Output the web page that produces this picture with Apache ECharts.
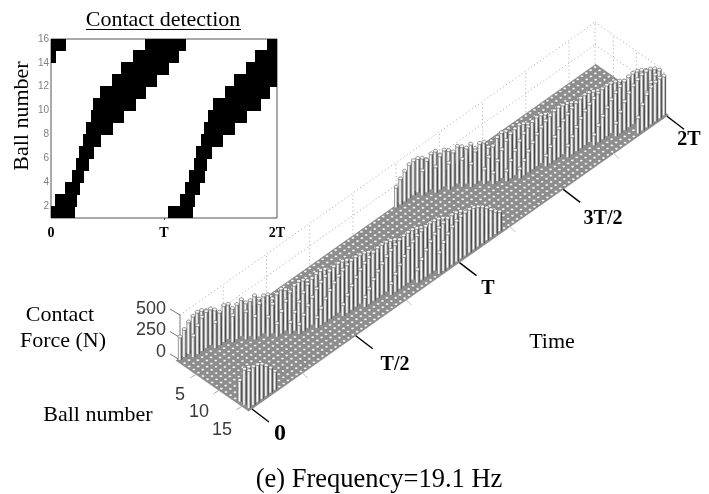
<!DOCTYPE html>
<html><head><meta charset="utf-8">
<style>html,body{margin:0;padding:0;background:#fff}#c{width:709px;height:494px}</style>
<script src="https://cdn.jsdelivr.net/npm/echarts@6/dist/echarts.min.js"></script>
</head><body><div id="c"></div>
<script>
// ---- data ----
const sampleCount = 96;
const ballCount = 16;
const forceTicks = [0, 250, 500];
const ballTicks = [5, 10, 15];
const insetBallTicks = [2, 4, 6, 8, 10, 12, 14, 16];
const insetTimeTicks = [0, 48, 96];
const insetTimeNames = ['0', 'T', '2T'];
const leaderTimes = [0, 24, 48, 72, 96];
const leaderNames = ['0', 'T/2', 'T', '3T/2', '2T'];

// first contact sample of each ball in each passage, and the force (N) from there on
const startFirst = [0, 2, 6, 9, 11, 12, 14, 15, 17, 18, 21, 26, 30, 35, 40, 44];
const forceFirst = [
  [260,310,360,390,400,385,350,300,230,140],
  [240,320,380,410,405,360,290,210,120],
  [290,370,410,390,310,180],
  [300,390,410,340,190],
  [310,400,420,350,200],
  [260,370,420,400,320,170],
  [220,330,410,430,390,300,160],
  [150,250,330,400,440,450,430,390,330,250,130],
  [130,210,290,360,420,450,470,470,450,410,360,300,220,120],
  [110,180,250,310,370,410,440,465,480,485,475,450,420,380,330,270,200,110],
  [120,190,260,320,370,410,445,470,485,490,480,465,440,405,365,310,250,180,100],
  [130,200,270,330,380,420,450,475,490,495,485,470,445,415,375,325,265,190,110],
  [110,170,240,300,350,395,430,460,480,490,495,490,470,445,410,370,320,260,190,110],
  [130,200,270,330,385,425,460,480,495,500,490,475,450,415,375,325,265,190,110],
  [150,230,300,360,410,445,470,485,490,480,460,430,395,350,290,220,130],
  [240,320,380,425,455,475,485,485,470,445,410,365,310,260,220]
];
const startSecond = [50, 55, 57, 59, 61, 62, 64, 65, 67, 69, 74, 78, 83, 87, 92, 90];
const forceSecond = [
  [230,290,340,380,390,380,350,300,230,130],
  [280,360,400,395,320,180],
  [290,380,410,370,290,160],
  [300,390,420,380,280,140],
  [310,400,410,330,180],
  [260,370,420,400,310,160],
  [170,270,360,420,440,420,370,290,150],
  [130,230,320,390,430,450,460,440,400,350,290,210,110],
  [120,200,280,350,400,440,465,480,470,445,410,365,310,250,180,100],
  [110,170,240,300,360,405,440,465,485,490,480,465,440,405,365,320,270,215,155,90],
  [120,190,260,320,375,415,450,475,490,495,485,465,440,405,365,315,255,185,105],
  [130,200,270,335,385,425,455,480,495,500,490,470,445,410,370,320,265,230,200],
  [120,190,260,320,375,420,455,480,495,500,490,465,430,385],
  [150,240,320,385,430,465,485,490,480,450],
  [210,320,400,450,470],
  [180,290,370,420,440,450,440]
];
// balls still in contact at time 0, left over from the previous passage
const wrapBalls = [14, 15, 16];
const wrapForce = [
  [240,180],
  [400,390,360,320,270,190],
  [420,430,420,390,340,280,210]
];

// ---- assemble the force surface ----
const surface = [];
for (let b = 0; b < ballCount; b++) surface.push(new Array(sampleCount + 1).fill(0));
function fill(ball, start, list) { list.forEach((f, i) => { surface[ball][start + i] = f; }); }
forceFirst.forEach((l, i) => fill(i, startFirst[i], l));
forceSecond.forEach((l, i) => fill(i, startSecond[i], l));
wrapBalls.forEach((b, i) => fill(b - 1, 0, wrapForce[i]));

const cells = [];
const contact = [];
surface.forEach((row, b) => row.forEach((f, t) => {
  cells.push([t, b + 1, f]);
  if (f > 0 && b < ballCount - 1 && t < sampleCount) contact.push([t, b + 1]);
}));

// ---- oblique view of the 3-D plot: time runs up-right, ball number down-right ----
const RISE = 3.05, BX = 4.6, BY = 3.2;
function project(api, t, ball, f) {
  const p = api.coord([t, f]);
  return [p[0] + (ball - 1) * BX, p[1] - t * RISE + (ball - 1) * BY];
}
const sideFill = { type: 'linear', x: 0, y: 0, x2: 1, y2: 0, colorStops: [
  { offset: 0, color: '#6a6a6a' }, { offset: .3, color: '#eeeeee' }, { offset: .45, color: '#ffffff' },
  { offset: .65, color: '#b0b0b0' }, { offset: 1, color: '#262626' }] };

function line(a, b, style) {
  return { type: 'line', shape: { x1: a[0], y1: a[1], x2: b[0], y2: b[1] }, style: style, silent: true };
}
function renderFrame(params, api) {
  const P = (t, b, f) => project(api, t, b, f);
  const dots = { stroke: '#b4b4b4', lineWidth: 1, lineDash: [1.2, 2.6] };
  const ch = [];
  const last = ballCount;
  [250, 500].forEach(f => {
    ch.push(line(P(0, 1, f), P(sampleCount, 1, f), dots));
    ch.push(line(P(sampleCount, 1, f), P(sampleCount, last, f), dots));
  });
  for (let t = 10; t <= sampleCount; t += 10) ch.push(line(P(t, 1, 0), P(t, 1, 500), dots));
  ch.push(line(P(sampleCount, 1, 0), P(sampleCount, 1, 500), dots));
  ballTicks.forEach(b => ch.push(line(P(sampleCount, b, 0), P(sampleCount, b, 500), dots)));
  ch.push(line(P(sampleCount, last, 0), P(sampleCount, last, 500), dots));
  ch.push({ type: 'polygon', shape: { points: [
    P(-.6, .6, 0), P(sampleCount + .6, .6, 0), P(sampleCount + .6, last + .5, 0), P(-.6, last + .5, 0)] },
    style: { fill: '#8e8e8e' }, silent: true });
  const ax = { stroke: '#777', lineWidth: 1 };
  ch.push(line(P(0, 1, 0), P(0, 1, 500), ax));
  forceTicks.forEach(f => { const q = P(0, 1, f); ch.push(line(q, [q[0] - 10, q[1] - 6], ax)); });
  ballTicks.forEach(b => { const q = P(0, b, 0); ch.push(line(q, [q[0] - 8, q[1] + 5], { stroke: '#aaa', lineWidth: 1 })); });
  for (let t = 12; t < sampleCount; t += 12) {
    if (leaderTimes.indexOf(t) >= 0) continue;
    const q = P(t, last, 0);
    ch.push(line([q[0] + 1, q[1] + 1], [q[0] + 7, q[1] + 7], { stroke: '#bbb', lineWidth: 1 }));
  }
  return { type: 'group', children: ch };
}
function renderColumn(params, api) {
  const t = api.value(0), b = api.value(1), f = api.value(2);
  const top = project(api, t, b, f);
  const base = project(api, t, b, 0);
  const ch = [];
  if (f > 0) ch.push({ type: 'rect', shape: { x: top[0] - 2.1, y: top[1], width: 4.2, height: base[1] - top[1] },
    style: { fill: sideFill }, silent: true });
  ch.push({ type: 'ellipse', shape: f > 0 ? { cx: top[0], cy: top[1], rx: 2.1, ry: 1.5 } : { cx: top[0], cy: top[1], rx: 1.6, ry: 1.2 },
    style: { fill: '#f8f8f8', stroke: '#666', lineWidth: f > 0 ? .7 : .4 }, silent: true });
  return { type: 'group', children: ch };
}
function renderLeaders(params, api) {
  const t = api.value(0);
  const q = project(api, t, ballCount, 0);
  return line([q[0] + 3, q[1] + 1], [q[0] + 20, q[1] + 14], { stroke: '#000', lineWidth: 1.4 });
}
function renderContact(params, api) {
  const a = api.coord([api.value(0), api.value(1)]);
  const c = api.coord([api.value(0) + 1, api.value(1) + 1]);
  const x = Math.floor(a[0]), y = Math.floor(c[1]);
  return { type: 'rect', shape: { x: x, y: y, width: Math.ceil(c[0]) - x, height: Math.ceil(a[1]) - y },
    style: { fill: '#000' }, silent: true };
}
cells.sort((p, q) => (-RISE * p[0] + BY * p[1]) - (-RISE * q[0] + BY * q[1]));

// ---- text ----
const SERIF = '"Liberation Serif", serif', SANS = '"Liberation Sans", sans-serif';
function label(x, y, text, size, opt) {
  opt = opt || {};
  return { type: 'text', x: x, y: y, rotation: opt.rot || 0, silent: true, z: 50,
    style: { text: text, fill: opt.fill || '#000', align: opt.align || 'center', verticalAlign: 'middle',
      font: (opt.bold ? 'bold ' : '') + size + 'px ' + (opt.family || SERIF) } };
}
const leaderLabelPlaces = [[280, 434, 24], [395, 365, 20], [488, 289, 20], [603, 219, 20], [689, 140, 20]];
const forceLabelY = [352, 330, 309];
const ballLabelPlaces = [[180, 395], [199, 412], [222, 430]];
const graphic = [
  label(163, 20, 'Contact detection', 22),
  { type: 'line', shape: { x1: 86, y1: 29.5, x2: 241, y2: 29.5 }, style: { stroke: '#000', lineWidth: 1 }, silent: true, z: 50 },
  label(22, 116, 'Ball number', 22, { rot: Math.PI / 2 }),
  label(60, 315, 'Contact', 22),
  label(63, 341, 'Force (N)', 22),
  label(98, 415, 'Ball number', 22),
  label(552, 342, 'Time', 22),
  label(379, 480, '(e) Frequency=19.1 Hz', 26.5)
];
leaderNames.forEach((n, i) => { const p = leaderLabelPlaces[i]; graphic.push(label(p[0], p[1], n, p[2], { bold: true })); });
forceTicks.forEach((f, i) => graphic.push(label(166, forceLabelY[i], String(f), 18, { family: SANS, fill: '#3a3a3a', align: 'right' })));
ballTicks.forEach((b, i) => graphic.push(label(ballLabelPlaces[i][0], ballLabelPlaces[i][1], String(b), 18, { family: SANS, fill: '#3a3a3a' })));

const chart = echarts.init(document.getElementById('c'), null, { renderer: 'canvas' });
chart.setOption({
  animation: false,
  backgroundColor: '#fff',
  graphic: graphic,
  grid: [
    { left: 51, top: 39, width: 226, height: 179, show: true, backgroundColor: '#fff', borderColor: '#555', borderWidth: 1 },
    { left: 180, top: 315, width: 415, height: 45, show: false }
  ],
  xAxis: [
    { gridIndex: 0, type: 'value', min: 0, max: sampleCount, splitLine: { show: false }, axisLine: { show: false },
      axisTick: { show: true, customValues: [48], length: 2, lineStyle: { color: '#444' } },
      axisLabel: { customValues: insetTimeTicks, margin: 8, fontFamily: SERIF, fontWeight: 'bold', fontSize: 14, color: '#000', hideOverlap: false,
        formatter: v => insetTimeNames[insetTimeTicks.indexOf(v)] } },
    { gridIndex: 1, type: 'value', min: 0, max: sampleCount, show: false }
  ],
  yAxis: [
    { gridIndex: 0, type: 'value', min: 1, max: ballCount, splitLine: { show: false }, axisLine: { show: false },
      axisTick: { show: false },
      axisLabel: { customValues: insetBallTicks, margin: 2, fontFamily: SANS, fontSize: 10, color: '#808080' } },
    { gridIndex: 1, type: 'value', min: 0, max: 500, show: false }
  ],
  series: [
    { type: 'custom', name: 'Contact detection', xAxisIndex: 0, yAxisIndex: 0, clip: true, data: contact, renderItem: renderContact, z: 3, silent: true },
    { type: 'custom', name: 'frame', xAxisIndex: 1, yAxisIndex: 1, clip: false, data: [[0, 0]], renderItem: renderFrame, z: 1, silent: true },
    { type: 'custom', name: 'Contact force', xAxisIndex: 1, yAxisIndex: 1, clip: false, progressive: 0, data: cells,
      encode: { x: 0, y: 2 }, renderItem: renderColumn, z: 2, silent: true },
    { type: 'custom', name: 'time marks', xAxisIndex: 1, yAxisIndex: 1, clip: false, data: leaderTimes.map(t => [t, 0]), renderItem: renderLeaders, z: 4, silent: true }
  ]
});
</script>
</body></html>
